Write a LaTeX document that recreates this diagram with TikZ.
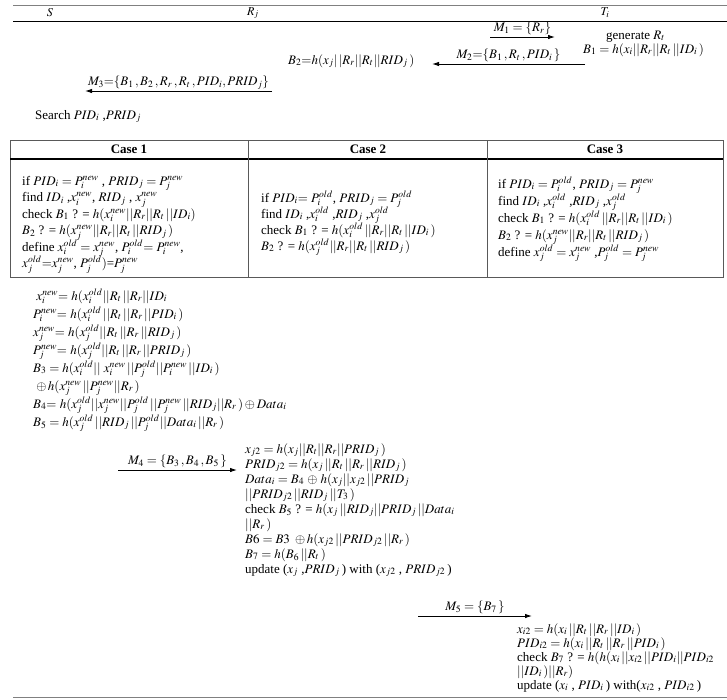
\documentclass[tikz,border=0pt]{standalone}
\usepackage{mathptmx}
\usepackage{fontspec}
\setmainfont{Liberation Serif}
\usetikzlibrary{arrows.meta}

\tikzset{
  txt/.style={anchor=base west,inner sep=0pt,font=\fontsize{13}{15}\selectfont},
  hd/.style={inner sep=0pt,font=\fontsize{12}{14}\selectfont},
  casehd/.style={inner sep=0pt,font=\fontsize{13}{15}\selectfont\bfseries},
  lbl/.style={above,inner sep=1.5pt,font=\fontsize{13}{15}\selectfont},
  msg/.style={-{Latex[length=7pt,width=4.5pt]},line width=0.9pt}
}

\begin{document}
\begin{tikzpicture}[x=1pt,y=-1pt]
    \useasboundingbox (0,0) rectangle (727,699);

    % header rules
    \draw[gray,line width=1pt] (13,5) -- (727,5);
    \draw[line width=0.8pt] (13,21) -- (727,21);
    \node[hd] (hS) at (50,13) {$S$};
    \node[hd] (hR) at (253,13) {$R_j$};
    \node[hd] (hT) at (605,13) {$T_i$};

    % first messages
    \coordinate (m1a) at (490,37);
    \coordinate (m1b) at (555,37);
    \draw[msg] (m1a) -- node[lbl] (l1) {$M_1=\{R_r\}$} (m1b);
    \node[txt] (gen) at (606,39) {generate $R_t$};
    \node[txt] (b1) at (583,53) {$B_1 = h(x_i||R_r||R_t\,||ID_i\,)$};

    \coordinate (m2a) at (585,64);
    \coordinate (m2b) at (432,64);
    \draw[msg] (m2a) -- node[lbl] (l2) {$M_2{=}\{B_1\,,R_t\,,PID_i\,\}$} (m2b);
    \node[txt] (b2) at (288,64) {$B_2{=}h(x_j|\,|R_r||R_t||RID_j\,)$};

    \coordinate (m3a) at (272,91);
    \coordinate (m3b) at (85,91);
    \draw[msg] (m3a) -- node[lbl] (l3) {$M_3{=}\{B_1\,,B_2\,,R_r\,,R_t\,,PID_i,PRID_j\}$} (m3b);
    \node[txt] (srch) at (35,119) {Search $PID_i$ ,$PRID_j$};

    % case table
    \draw[gray!70!black,line width=1pt] (10,140) rectangle (723,277);
    \draw[line width=1.3pt] (10,159) -- (723,159);
    \draw[gray!70!black,line width=1pt] (248,140) -- (248,277);
    \draw[gray!70!black,line width=1pt] (487,140) -- (487,277);
    \node[casehd] (c1) at (129,149) {Case 1};
    \node[casehd] (c2) at (368,149) {Case 2};
    \node[casehd] (c3) at (605,149) {Case 3};

    \foreach \txt [count=\k] in {
        {if $PID_i = P_i^{new}$ , $PRID_j = P_j^{new}$},
        {find $ID_i$ ,$x_i^{new}$, $RID_j$ , $x_j^{new}$},
        {check $B_1$ ? = $h(x_i^{new}||R_r||R_t\,||ID_i)$},
        {$B_2$ ? = $h(x_j^{new}||R_r||R_t\,||RID_j\,)$},
        {define $x_i^{old} = x_j^{new}$, $P_i^{old}{=}\ P_i^{new}$,},
        {$x_j^{old}{=}x_j^{new}$, $P_j^{old})$=$P_j^{new}$}} {
        \node[txt] (caseA-\k) at (22,{185+16.5*(\k-1)}) {\txt};
    }
    \foreach \txt [count=\k] in {
        {if $PID_i{=}\ P_i^{old}$, $PRID_j = P_j^{old}$},
        {find $ID_i$ ,$x_i^{old}$ ,$RID_j$ ,$x_j^{old}$},
        {check $B_1$ ? = $h(x_i^{old}\,||R_r||R_t\,||ID_i\,)$},
        {$B_2$ ? = $h(x_j^{old}||R_r||R_t\,||RID_j\,)$}} {
        \node[txt] (caseB-\k) at (261,{202+16*(\k-1)}) {\txt};
    }
    \foreach \txt [count=\k] in {
        {if $PID_i = P_i^{old}$, $PRID_j = P_j^{new}$},
        {find $ID_i$ ,$x_i^{old}$ ,$RID_j$ ,$x_j^{old}$},
        {check $B_1$ ? = $h(x_i^{old}\,||R_r||R_t\,||ID_i\,)$},
        {$B_2$ ? = $h(x_j^{new}||R_r||R_t\,||RID_j\,)$},
        {define $x_j^{old} = x_j^{new}$ ,$P_j^{old} = P_j^{new}$}} {
        \node[txt] (caseC-\k) at (498,{188+17*(\k-1)}) {\txt};
    }

    % server side update
    \foreach \txt [count=\k] in {
        {\ $x_i^{new}{=}\ h(x_i^{old}||R_t\,||R_r||ID_i$},
        {$P_i^{new}{=}\ h(x_i^{old}\,||R_t\,||R_r\,||PID_i\,)$},
        {$x_j^{new}{=}\ h(x_j^{old}||R_t\,||R_r\,||RID_j\,)$},
        {$P_j^{new}{=}\ h(x_j^{old}||R_t\,||R_r\,||PRID_j\,)$},
        {$B_3 = h(x_i^{old}||\ x_i^{new}\,||P_j^{old}||P_i^{new}\,||ID_i\,)$},
        {\ $\oplus\, h(x_j^{new}\,||P_j^{new}||R_r\,)$},
        {$B_4{=}\ h(x_j^{old}||x_j^{new}||P_j^{old}\,||P_j^{new}\,||RID_j||R_r\,) \oplus Data_i$},
        {$B_5 = h(x_j^{old}\,||RID_j\,||P_j^{old}||Data_i\,||R_r\,)$}} {
        \node[txt] (srv-\k) at (33,{300+18*(\k-1)}) {\txt};
    }

    % M4
    \coordinate (m4a) at (118,470);
    \coordinate (m4b) at (237,470);
    \draw[msg] (m4a) -- node[lbl] (l4) {$M_4=\{B_3\,,B_4\,,B_5\,\}$} (m4b);
    \foreach \txt [count=\k] in {
        {$x_{j2} = h(x_j||R_t||R_r||PRID_j\,)$},
        {$PRID_{j2} = h(x_j\,||R_t\,||R_r\,||RID_j\,)$},
        {$Data_i = B_4\,\oplus\, h(x_j||x_{j2}\,||PRID_j$},
        {$||PRID_{j2}\,||RID_j\,||T_3\,)$},
        {check $B_5$ ? = $h(x_j\,||RID_j||PRID_j\,||Data_i$},
        {$||R_r\,)$},
        {$B6 = B3\ \oplus h(x_{j2}\,||PRID_{j2}\,||R_r\,)$},
        {$B_7 = h(B_6\,||R_t\,)$},
        {update ($x_j$ ,$PRID_j$\,) with ($x_{j2}$ , $PRID_{j2}$\,)}} {
        \node[txt] (rdr-\k) at (245,{453+15*(\k-1)}) {\txt};
    }

    % M5
    \coordinate (m5a) at (418,616);
    \coordinate (m5b) at (532,616);
    \draw[msg] (m5a) -- node[lbl] (l5) {$M_5=\{B_7\,\}$} (m5b);
    \foreach \txt [count=\k] in {
        {$x_{i2} = h(x_i\,||R_t\,||R_r\,||ID_i\,)$},
        {$PID_{i2} = h(x_i\,||R_t\,||R_r\,||PID_i\,)$},
        {check $B_7$ ? = $h(h(x_i\,||x_{i2}\,||PID_i||PID_{i2}$},
        {$||ID_i\,)||R_r)$},
        {update ($x_i$ , $PID_i$\,) with($x_{i2}$ , $PID_{i2}$\,)}} {
        \node[txt] (tag-\k) at (517,{633+14*(\k-1)}) {\txt};
    }

    \draw[gray,line width=1pt] (13,697) -- (727,697);
\end{tikzpicture}
\end{document}
